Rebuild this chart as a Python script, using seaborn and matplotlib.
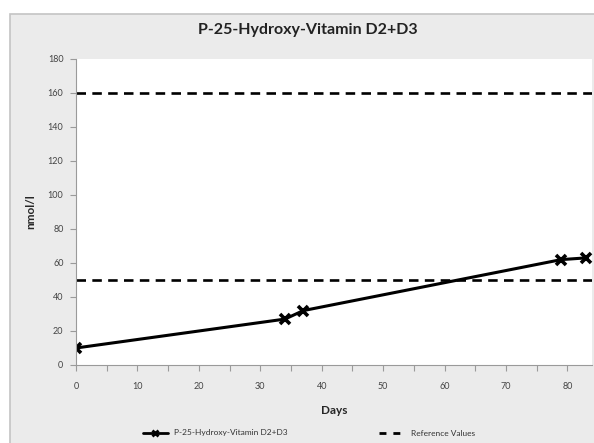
import numpy as np
import pandas as pd
import matplotlib
matplotlib.use('Agg')
import matplotlib.pyplot as plt
from matplotlib.patches import Rectangle
from matplotlib.lines import Line2D
import seaborn as sns

# data
days = [0, 34, 37, 79, 83]
values = [10, 27, 32, 62, 63]
reference_values = [50, 160]
series_label = 'P-25-Hydroxy-Vitamin D2+D3'
ref_label = 'Reference Values'

df = pd.DataFrame({'Days': days, 'nmol/l': values})

sns.set_style("white")
plt.rcParams['font.family'] = ['Lato', 'DejaVu Sans']

fig = plt.figure(figsize=(5.94, 4.43), dpi=100)
fig.patch.set_facecolor('white')

# grey chart frame like the spreadsheet export
W, H = 594, 443
fig.patches.append(Rectangle((10 / W, -0.01), 1.0, 1 - 14 / H + 0.01,
                             transform=fig.transFigure, facecolor='#ebebeb',
                             edgecolor='#c4c4c4', linewidth=1.2, zorder=-10))

ax = fig.add_axes([76 / W, 1 - 365 / H, (592 - 76) / W, (365 - 59) / H])
ax.set_facecolor('white')

sns.lineplot(data=df, x='Days', y='nmol/l', ax=ax, color='black', linewidth=2.2,
             marker='x', markersize=7, markeredgewidth=2.6, markeredgecolor='black')

for rv in reference_values:
    ax.axhline(rv, color='black', linewidth=1.9, dashes=(3.6, 2.4))

ax.set_xlim(0, 84)
ax.set_ylim(0, 180)
ax.set_xticks(np.arange(0, 81, 10))
ax.set_xticks(np.arange(0, 85, 5), minor=True)
ax.set_yticks(np.arange(0, 181, 20))

for s in ['top', 'right']:
    ax.spines[s].set_visible(False)
for s in ['left', 'bottom']:
    ax.spines[s].set_color('#9a9a9a')
    ax.spines[s].set_linewidth(0.8)

ax.tick_params(axis='both', which='both', direction='out', colors='#9a9a9a',
               labelcolor='#444444', labelsize=6.5, length=4, width=0.8,
               bottom=True, left=True)
ax.tick_params(axis='x', pad=8)
ax.tick_params(axis='y', pad=5)

ax.set_xlabel('Days', fontsize=8.5, fontweight='bold', labelpad=10)
ax.set_ylabel('nmol/l', fontsize=8.5, fontweight='bold', labelpad=8)

fig.text(308 / W, 1 - 30 / H, 'P-25-Hydroxy-Vitamin D2+D3', ha='center', va='center',
         fontsize=11.5, fontweight='bold', color='#222222')

handles = [Line2D([], [], color='black', linewidth=2, marker='x', markersize=5,
                  markeredgewidth=2),
           Line2D([], [], color='black', linewidth=2, dashes=(2.5, 2.5))]
fig.legend(handles, [series_label, ref_label], loc='center',
           bbox_to_anchor=(0.52, 1 - 433 / H), ncol=2, frameon=False,
           fontsize=6, columnspacing=11, handlelength=3, labelcolor='#333333')

fig.savefig('out.png', dpi=100)
